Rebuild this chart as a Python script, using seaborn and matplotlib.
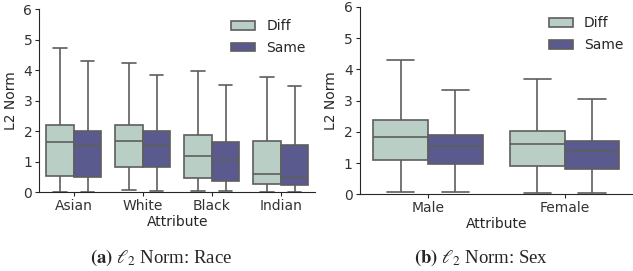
import numpy as np
import pandas as pd
import matplotlib
matplotlib.use('Agg')
import matplotlib.pyplot as plt
import seaborn as sns

# five-number summaries (min, q1, median, q3, max)
race_groups = ["Asian", "White", "Black", "Indian"]
race_diff = [
	[0.01, 0.54, 1.65, 2.22, 4.75],
	[0.07, 0.84, 1.67, 2.20, 4.23],
	[0.05, 0.46, 1.18, 1.87, 3.99],
	[0.02, 0.26, 0.60, 1.67, 3.77],
]
race_same = [
	[0.01, 0.49, 1.55, 2.02, 4.31],
	[0.05, 0.82, 1.57, 2.02, 3.84],
	[0.05, 0.39, 1.07, 1.66, 3.51],
	[0.02, 0.24, 0.52, 1.54, 3.49],
]
sex_groups = ["Male", "Female"]
sex_diff = [
	[0.06, 1.09, 1.84, 2.39, 4.30],
	[0.03, 0.92, 1.60, 2.04, 3.70],
]
sex_same = [
	[0.06, 0.96, 1.54, 1.90, 3.34],
	[0.03, 0.80, 1.38, 1.70, 3.06],
]
hue_order = ["Diff", "Same"]
palette = {"Diff": "#b9cfc6", "Same": "#5b5a8f"}

sns.set_style("ticks")
plt.rcParams['font.size'] = 10
plt.rcParams['mathtext.fontset'] = 'stix'


def to_frame(groups, diff, same):
	rows = []
	for g, d, s in zip(groups, diff, same):
		for v in d:
			rows.append({"Attribute": g, "Pair": "Diff", "L2 Norm": v})
		for v in s:
			rows.append({"Attribute": g, "Pair": "Same", "L2 Norm": v})
	return pd.DataFrame(rows)


fig = plt.figure(figsize=(6.33, 2.71), dpi=100)
ax1 = fig.add_axes([0.062, 0.290, 0.436, 0.675])
ax2 = fig.add_axes([0.568, 0.283, 0.432, 0.692])

panels = [
	(ax1, to_frame(race_groups, race_diff, race_same), race_groups),
	(ax2, to_frame(sex_groups, sex_diff, sex_same), sex_groups),
]
for ax, df, order in panels:
	sns.boxplot(data=df, x="Attribute", y="L2 Norm", hue="Pair", order=order,
				hue_order=hue_order, palette=palette, whis=(0, 100), width=0.8,
				saturation=1, linecolor="#5e5e5e", linewidth=1.2, ax=ax)
	ax.set_ylim(0, 6)
	ax.set_yticks(range(7))
	ax.set_xlabel("Attribute", labelpad=1)
	ax.set_ylabel("L2 Norm")
	ax.tick_params(length=3, pad=2, labelcolor="#333333")
	ax.legend(title=None, frameon=False, loc="upper right", fontsize=10,
			  handlelength=1.7, handleheight=0.6, labelspacing=0.55,
			  borderaxespad=0.3)
	sns.despine(ax=ax)

fig.text(0.255, 0.05, r"$\mathbf{(a)}$ $\ell_2$ Norm: Race", ha="center", va="center",
		 fontsize=13.5, family="Liberation Serif")
fig.text(0.76, 0.05, r"$\mathbf{(b)}$ $\ell_2$ Norm: Sex", ha="center", va="center",
		 fontsize=13.5, family="Liberation Serif")

fig.savefig("out.png", dpi=100)
plt.close(fig)
